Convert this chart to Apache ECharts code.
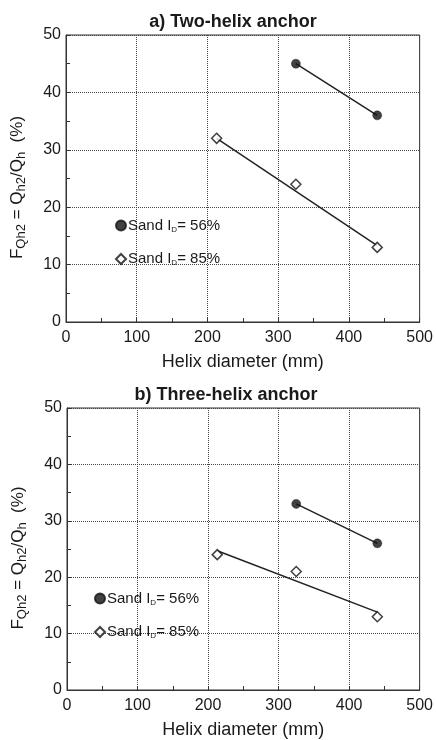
<!DOCTYPE html>
<html>
<head>
<meta charset="utf-8" />
<title>Helix anchor</title>
<script src="https://cdn.jsdelivr.net/npm/echarts@6/dist/echarts.min.js"></script>
<style>
  html, body { margin: 0; padding: 0; background: #fff; }
  #main { width: 436px; height: 740px; }
</style>
</head>
<body>
<div id="main"></div>
<script>
// a) two-helix anchor
var twoDense = [[325, 45], [440, 36]];           // Sand ID = 56%
var twoLoose = [[213, 32], [325, 24], [440, 13]]; // Sand ID = 85%
var twoDenseLine = [[325, 45], [440, 36]];
var twoLooseLine = [[213, 32], [440, 13.3]];

// b) three-helix anchor
var threeDense = [[325, 33], [440, 26]];
var threeLoose = [[213, 24], [325, 21], [440, 13]];
var threeDenseLine = [[325, 33], [440, 26]];
var threeLooseLine = [[213, 24.7], [440, 13.8]];

var legendText = {
    a56: 'Sand I|D|= 56%', a85: 'Sand I|D|= 85%',
    b56: 'Sand I|D|= 56%', b85: 'Sand I|D|= 85%'
};

var ink = '#1a1a1a';
var font = 'Liberation Sans, Arial, sans-serif';

function xAx(i) {
    return {
        type: 'value', gridIndex: i, min: 0, max: 500, interval: 100,
        axisLine: { show: true, lineStyle: { color: '#333', width: 1 } },
        axisTick: { show: true, inside: true, length: 4, lineStyle: { color: '#333' } },
        minorTick: { show: true, splitNumber: 2, length: 4, lineStyle: { color: '#333' } },
        splitLine: { show: true, lineStyle: { type: 'dotted', color: '#444', width: 1 } },
        axisLabel: { fontSize: 16, color: ink, margin: 8, fontFamily: font },
        name: 'Helix diameter (mm)', nameLocation: 'middle', nameGap: 31,
        nameTextStyle: { fontSize: 18, color: ink, fontFamily: font }
    };
}
function yAx(i) {
    return {
        type: 'value', gridIndex: i, min: 0, max: 50, interval: 10,
        axisLine: { show: true, lineStyle: { color: '#333', width: 1 } },
        axisTick: { show: true, inside: true, length: 4, lineStyle: { color: '#333' } },
        minorTick: { show: true, splitNumber: 2, length: 4, lineStyle: { color: '#333' } },
        splitLine: { show: true, lineStyle: { type: 'dotted', color: '#444', width: 1 } },
        axisLabel: { fontSize: 16, color: ink, margin: 5, fontFamily: font },
        name: '{m|F}{s|Qh2}{m| = Q}{s|h2}{m|/Q}{s|h}{m|  (%)}',
        nameLocation: 'middle', nameGap: 38,
        nameTextStyle: {
            color: ink, fontFamily: font, padding: [0, 18, 0, 0],
            rich: {
                m: { fontSize: 17, color: ink, fontFamily: font },
                s: { fontSize: 13, color: ink, fontFamily: font, padding: [8, 0, 0, 0] }
            }
        }
    };
}
function legendCfg(names, left, top) {
    return {
        data: names, orient: 'vertical', left: left, top: top,
        itemWidth: 10, itemHeight: 10, itemGap: 18,
        formatter: function (n) {
            var p = legendText[n].split('|');
            return '{t|' + p[0] + '}{s|' + p[1] + '}{t|' + p[2] + '}';
        },
        textStyle: {
            color: ink, fontFamily: font, fontSize: 15, padding: [0, 0, 0, -3],
            rich: {
                t: { fontSize: 15, color: ink, fontFamily: font },
                s: { fontSize: 8, color: ink, fontFamily: font, padding: [8, 0, 0, 0] }
            }
        }
    };
}
function dots(name, data, i) {
    return {
        name: name, type: 'scatter', xAxisIndex: i, yAxisIndex: i, data: data,
        symbol: 'circle', symbolSize: 9, z: 5,
        itemStyle: { color: '#111', borderColor: '#111', borderWidth: 0.5 }
    };
}
function diamonds(name, data, i) {
    return {
        name: name, type: 'scatter', xAxisIndex: i, yAxisIndex: i, data: data,
        symbol: 'diamond', symbolSize: 10, z: 5,
        itemStyle: { color: '#fff', borderColor: '#111', borderWidth: 1.5 }
    };
}
function fit(data, i) {
    return {
        type: 'line', xAxisIndex: i, yAxisIndex: i, data: data,
        showSymbol: false, symbol: 'none', silent: true, z: 3,
        lineStyle: { color: '#222', width: 1.5 }
    };
}

var chart = echarts.init(document.getElementById('main'));
chart.setOption({
    backgroundColor: '#fff',
    animation: false,
    title: [
        { text: 'a) Two-helix anchor', left: 228, top: 8, textAlign: 'center',
          textStyle: { fontSize: 18, fontWeight: 'bold', color: ink, fontFamily: font } },
        { text: 'b) Three-helix anchor', left: 221, top: 381, textAlign: 'center',
          textStyle: { fontSize: 18, fontWeight: 'bold', color: ink, fontFamily: font } }
    ],
    grid: [
        { left: 66, right: 15, top: 35, height: 287, show: true, borderColor: '#333', borderWidth: 1 },
        { left: 67, right: 14, top: 408, height: 286, show: true, borderColor: '#333', borderWidth: 1 }
    ],
    legend: [
        legendCfg(['a56', 'a85'], 110, 213),
        legendCfg(['b56', 'b85'], 89, 586)
    ],
    xAxis: [xAx(0), xAx(1)],
    yAxis: [yAx(0), yAx(1)],
    series: [
        fit(twoDenseLine, 0), fit(twoLooseLine, 0),
        dots('a56', twoDense, 0), diamonds('a85', twoLoose, 0),
        fit(threeDenseLine, 1), fit(threeLooseLine, 1),
        dots('b56', threeDense, 1), diamonds('b85', threeLoose, 1)
    ]
});
</script>
</body>
</html>
